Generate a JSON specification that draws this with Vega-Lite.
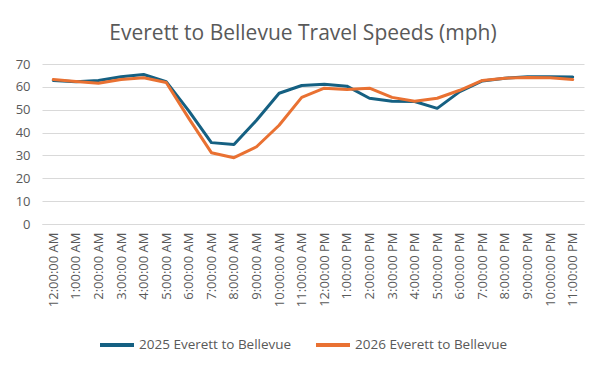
{
  "$schema": "https://vega.github.io/schema/vega-lite/v6.json",
  "width": 542,
  "height": 160,
  "autosize": {"type": "none"},
  "padding": {"left": 42, "top": 64, "right": 22, "bottom": 144},
  "background": "white",
  "title": {
    "text": "Everett to Bellevue Travel Speeds (mph)",
    "font": "Open Sans",
    "fontSize": 21,
    "fontWeight": "normal",
    "color": "#595959",
    "anchor": "middle",
    "dx": -10,
    "offset": 14
  },
  "data": {
    "values": [
      {"time": "12:00:00 AM", "series": "2025 Everett to Bellevue", "speed": 62.8},
      {"time": "1:00:00 AM", "series": "2025 Everett to Bellevue", "speed": 62.2},
      {"time": "2:00:00 AM", "series": "2025 Everett to Bellevue", "speed": 62.8},
      {"time": "3:00:00 AM", "series": "2025 Everett to Bellevue", "speed": 64.4},
      {"time": "4:00:00 AM", "series": "2025 Everett to Bellevue", "speed": 65.4},
      {"time": "5:00:00 AM", "series": "2025 Everett to Bellevue", "speed": 62.3},
      {"time": "6:00:00 AM", "series": "2025 Everett to Bellevue", "speed": 49.5},
      {"time": "7:00:00 AM", "series": "2025 Everett to Bellevue", "speed": 35.6},
      {"time": "8:00:00 AM", "series": "2025 Everett to Bellevue", "speed": 34.8},
      {"time": "9:00:00 AM", "series": "2025 Everett to Bellevue", "speed": 45.4},
      {"time": "10:00:00 AM", "series": "2025 Everett to Bellevue", "speed": 57.2},
      {"time": "11:00:00 AM", "series": "2025 Everett to Bellevue", "speed": 60.6},
      {"time": "12:00:00 PM", "series": "2025 Everett to Bellevue", "speed": 61.1},
      {"time": "1:00:00 PM", "series": "2025 Everett to Bellevue", "speed": 60.3},
      {"time": "2:00:00 PM", "series": "2025 Everett to Bellevue", "speed": 55.0},
      {"time": "3:00:00 PM", "series": "2025 Everett to Bellevue", "speed": 53.7},
      {"time": "4:00:00 PM", "series": "2025 Everett to Bellevue", "speed": 53.6},
      {"time": "5:00:00 PM", "series": "2025 Everett to Bellevue", "speed": 50.6},
      {"time": "6:00:00 PM", "series": "2025 Everett to Bellevue", "speed": 57.9},
      {"time": "7:00:00 PM", "series": "2025 Everett to Bellevue", "speed": 62.6},
      {"time": "8:00:00 PM", "series": "2025 Everett to Bellevue", "speed": 63.8},
      {"time": "9:00:00 PM", "series": "2025 Everett to Bellevue", "speed": 64.4},
      {"time": "10:00:00 PM", "series": "2025 Everett to Bellevue", "speed": 64.4},
      {"time": "11:00:00 PM", "series": "2025 Everett to Bellevue", "speed": 64.3},
      {"time": "12:00:00 AM", "series": "2026 Everett to Bellevue", "speed": 63.2},
      {"time": "1:00:00 AM", "series": "2026 Everett to Bellevue", "speed": 62.3},
      {"time": "2:00:00 AM", "series": "2026 Everett to Bellevue", "speed": 61.6},
      {"time": "3:00:00 AM", "series": "2026 Everett to Bellevue", "speed": 63.2},
      {"time": "4:00:00 AM", "series": "2026 Everett to Bellevue", "speed": 64.0},
      {"time": "5:00:00 AM", "series": "2026 Everett to Bellevue", "speed": 61.9},
      {"time": "6:00:00 AM", "series": "2026 Everett to Bellevue", "speed": 46.2},
      {"time": "7:00:00 AM", "series": "2026 Everett to Bellevue", "speed": 31.2},
      {"time": "8:00:00 AM", "series": "2026 Everett to Bellevue", "speed": 29.0},
      {"time": "9:00:00 AM", "series": "2026 Everett to Bellevue", "speed": 33.8},
      {"time": "10:00:00 AM", "series": "2026 Everett to Bellevue", "speed": 43.2},
      {"time": "11:00:00 AM", "series": "2026 Everett to Bellevue", "speed": 55.4},
      {"time": "12:00:00 PM", "series": "2026 Everett to Bellevue", "speed": 59.4},
      {"time": "1:00:00 PM", "series": "2026 Everett to Bellevue", "speed": 58.8},
      {"time": "2:00:00 PM", "series": "2026 Everett to Bellevue", "speed": 59.4},
      {"time": "3:00:00 PM", "series": "2026 Everett to Bellevue", "speed": 55.4},
      {"time": "4:00:00 PM", "series": "2026 Everett to Bellevue", "speed": 53.7},
      {"time": "5:00:00 PM", "series": "2026 Everett to Bellevue", "speed": 55.0},
      {"time": "6:00:00 PM", "series": "2026 Everett to Bellevue", "speed": 58.5},
      {"time": "7:00:00 PM", "series": "2026 Everett to Bellevue", "speed": 62.8},
      {"time": "8:00:00 PM", "series": "2026 Everett to Bellevue", "speed": 63.8},
      {"time": "9:00:00 PM", "series": "2026 Everett to Bellevue", "speed": 64.1},
      {"time": "10:00:00 PM", "series": "2026 Everett to Bellevue", "speed": 64.0},
      {"time": "11:00:00 PM", "series": "2026 Everett to Bellevue", "speed": 63.2}
    ]
  },
  "mark": {"type": "line", "strokeWidth": 3, "strokeCap": "round", "strokeJoin": "round"},
  "encoding": {
    "x": {
      "field": "time",
      "type": "ordinal",
      "sort": null,
      "scale": {"type": "point", "padding": 0.5},
      "axis": {
        "title": null,
        "labelAngle": -90,
        "labelFont": "Open Sans",
        "labelFontSize": 13,
        "labelColor": "#595959",
        "labelPadding": 8,
        "ticks": false,
        "domain": true,
        "domainColor": "#d9d9d9",
        "grid": false
      }
    },
    "y": {
      "field": "speed",
      "type": "quantitative",
      "scale": {"domain": [0, 70], "nice": false},
      "axis": {
        "title": null,
        "values": [0, 10, 20, 30, 40, 50, 60, 70],
        "labelFont": "Open Sans",
        "labelFontSize": 13,
        "labelColor": "#595959",
        "labelPadding": 12,
        "ticks": false,
        "domain": false,
        "grid": true,
        "gridColor": "#d9d9d9"
      }
    },
    "color": {
      "field": "series",
      "type": "nominal",
      "scale": {"range": ["#156082", "#E97132"]},
      "legend": {
        "title": null,
        "orient": "none",
        "legendX": 56,
        "legendY": 262,
        "direction": "horizontal",
        "symbolType": "M-1,0H1",
        "symbolSize": 1156,
        "symbolStrokeWidth": 4,
        "labelFont": "Open Sans",
        "labelFontSize": 13.5,
        "labelColor": "#595959",
        "labelOffset": 3,
        "columnPadding": 16
      }
    }
  },
  "config": {"view": {"stroke": null}}
}
